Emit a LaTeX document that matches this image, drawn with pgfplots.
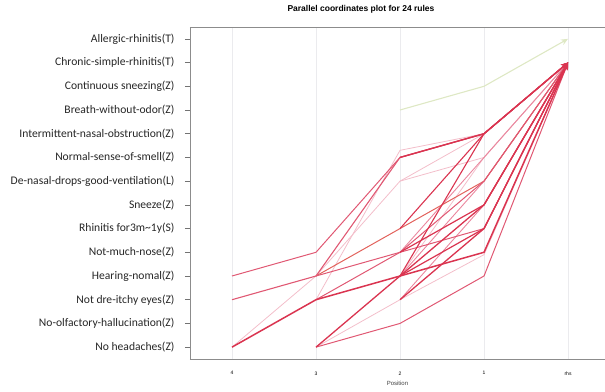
\documentclass[border=0pt]{standalone}
\usepackage{pgfplots}
\pgfplotsset{compat=1.18}
\usepackage{fontspec}
\setmainfont{Carlito}
\newfontfamily\arialfont{Liberation Sans}
\usetikzlibrary{arrows.meta}
\definecolor{mainred}{RGB}{218,52,80}
\definecolor{medred}{RGB}{224,88,115}
\definecolor{pinkred}{RGB}{234,135,158}
\definecolor{lightpink}{RGB}{243,190,202}
\definecolor{orred}{RGB}{226,98,92}
\definecolor{lgreen}{RGB}{222,232,196}
\definecolor{gridgray}{RGB}{235,235,238}
\begin{document}
\begin{tikzpicture}
\useasboundingbox (-190pt,-32pt) rectangle (415pt,359pt);
\begin{axis}[
  name=ax,
  at={(0,0)}, anchor=south west,
  scale only axis,
  width=415pt, height=332pt,
  xmin=-0.5, xmax=4.44, ymin=0.5, ymax=14.5,
  axis x line*=box, axis y line*=left,
  axis line style={draw=black!45, line width=0.8pt, -},
  xtick={0,1,2,3,4},
  xticklabels={4,3,2,1,rhs},
  xtick pos=bottom,
  x tick style={draw=none},
  x tick label style={font=\arialfont\fontsize{5}{6}\selectfont, yshift=-4pt},
  ytick={1,...,14},
  ytick pos=left,
  yticklabels={No headaches(Z),No-olfactory-hallucination(Z),Not dre-itchy eyes(Z),Hearing-nomal(Z),Not-much-nose(Z),Rhinitis for3m\textasciitilde 1y(S),Sneeze(Z),De-nasal-drops-good-ventilation(L),Normal-sense-of-smell(Z),Intermittent-nasal-obstruction(Z),Breath-without-odor(Z),Continuous sneezing(Z),Chronic-simple-rhinitis(T),Allergic-rhinitis(T)},
  y tick label style={font=\fontsize{11.6}{13}\selectfont, color=black!85, xshift=-7pt},
  ytick style={draw=black!55, line width=0.6pt},
  tick align=outside,
  major tick length=5pt,
  xmajorgrids, ymajorgrids=false,
  x grid style={gridgray, line width=0.8pt},
  xlabel={Position},
  xlabel style={font=\arialfont\fontsize{6}{7}\selectfont, yshift=1pt, color=black!75},
  title={Parallel coordinates plot for 24 rules},
  title style={font=\arialfont\bfseries\fontsize{8.5}{10}\selectfont, at={(rel axis cs:0.412,1)}, anchor=south, yshift=4pt},
  clip=false,
  every axis plot/.append style={line join=round}
]
% green rule
\addplot[lgreen, line width=1.1pt, -{Stealth[length=7pt,width=6pt]}] coordinates {(2,11) (3,12) (4,14)};
% light rules
\addplot[lightpink, line width=0.8pt, -{Stealth[length=6pt,width=5pt]}] coordinates {(0,1) (1,4) (2,8) (3,9) (4,13)};
\addplot[lightpink, line width=0.8pt, -{Stealth[length=6pt,width=5pt]}] coordinates {(1,1) (2,3) (3,4.9) (4,13)};
\addplot[lightpink, line width=0.8pt, -{Stealth[length=6pt,width=5pt]}] coordinates {(1,3) (2,9.3) (3,10) (4,13)};
\addplot[lightpink, line width=0.8pt, -{Stealth[length=6pt,width=5pt]}] coordinates {(2,8) (3,10) (4,13)};
\addplot[lightpink, line width=0.8pt, -{Stealth[length=6pt,width=5pt]}] coordinates {(2,4) (3,9) (4,13)};
% medium pink rules
\addplot[pinkred, line width=0.9pt, -{Stealth[length=6pt,width=5pt]}] coordinates {(2,5) (3,9) (4,13)};
\addplot[pinkred, line width=0.9pt, -{Stealth[length=6pt,width=5pt]}] coordinates {(2,4) (3,8) (4,13)};
\addplot[pinkred, line width=0.9pt, -{Stealth[length=6pt,width=5pt]}] coordinates {(2,3) (3,7) (4,13)};
\addplot[orred, line width=1.0pt, -{Stealth[length=6pt,width=5pt]}] coordinates {(1,4) (2,6) (3,8) (4,13)};
\addplot[orred, line width=1.0pt, -{Stealth[length=6pt,width=5pt]}] coordinates {(3,7) (4,13)};
% red rules
\addplot[medred, line width=1.0pt, -{Stealth[length=6pt,width=5pt]}] coordinates {(0,4) (1,5) (2,9) (3,10) (4,13)};
\addplot[medred, line width=1.1pt, -{Stealth[length=6pt,width=5pt]}] coordinates {(0,3) (1,4) (2,9) (3,10) (4,13)};
\addplot[medred, line width=1.0pt, -{Stealth[length=6pt,width=5pt]}] coordinates {(1,4) (2,5) (3,6) (4,13)};
\addplot[medred, line width=1.0pt, -{Stealth[length=6pt,width=5pt]}] coordinates {(1,1) (2,2) (3,4) (4,13)};
\addplot[medred, line width=1.0pt, -{Stealth[length=6pt,width=5pt]}] coordinates {(1,3) (2,5) (3,8) (4,13)};
\addplot[mainred, line width=1.3pt, -{Stealth[length=7pt,width=6pt]}] coordinates {(1,1) (2,4) (3,7) (4,13)};
\addplot[mainred, line width=1.5pt, -{Stealth[length=7pt,width=6pt]}] coordinates {(0,1) (1,3) (2,4) (3,5) (4,13)};
\addplot[mainred, line width=1.2pt, -{Stealth[length=7pt,width=6pt]}] coordinates {(2,4) (3,6) (4,13)};
\addplot[mainred, line width=1.3pt, -{Stealth[length=7pt,width=6pt]}] coordinates {(2,3) (3,6) (4,13)};
\addplot[mainred, line width=1.1pt, -{Stealth[length=7pt,width=6pt]}] coordinates {(2,4) (3,10) (4,13)};
\addplot[mainred, line width=1.1pt, -{Stealth[length=7pt,width=6pt]}] coordinates {(2,6) (3,10) (4,13)};
\addplot[mainred, line width=1.2pt, -{Stealth[length=7pt,width=6pt]}] coordinates {(2,5) (3,7) (4,13)};
\addplot[mainred, line width=1.4pt, -{Stealth[length=7pt,width=6pt]}] coordinates {(2,9) (3,10) (4,13)};
\end{axis}
\end{tikzpicture}
\end{document}
